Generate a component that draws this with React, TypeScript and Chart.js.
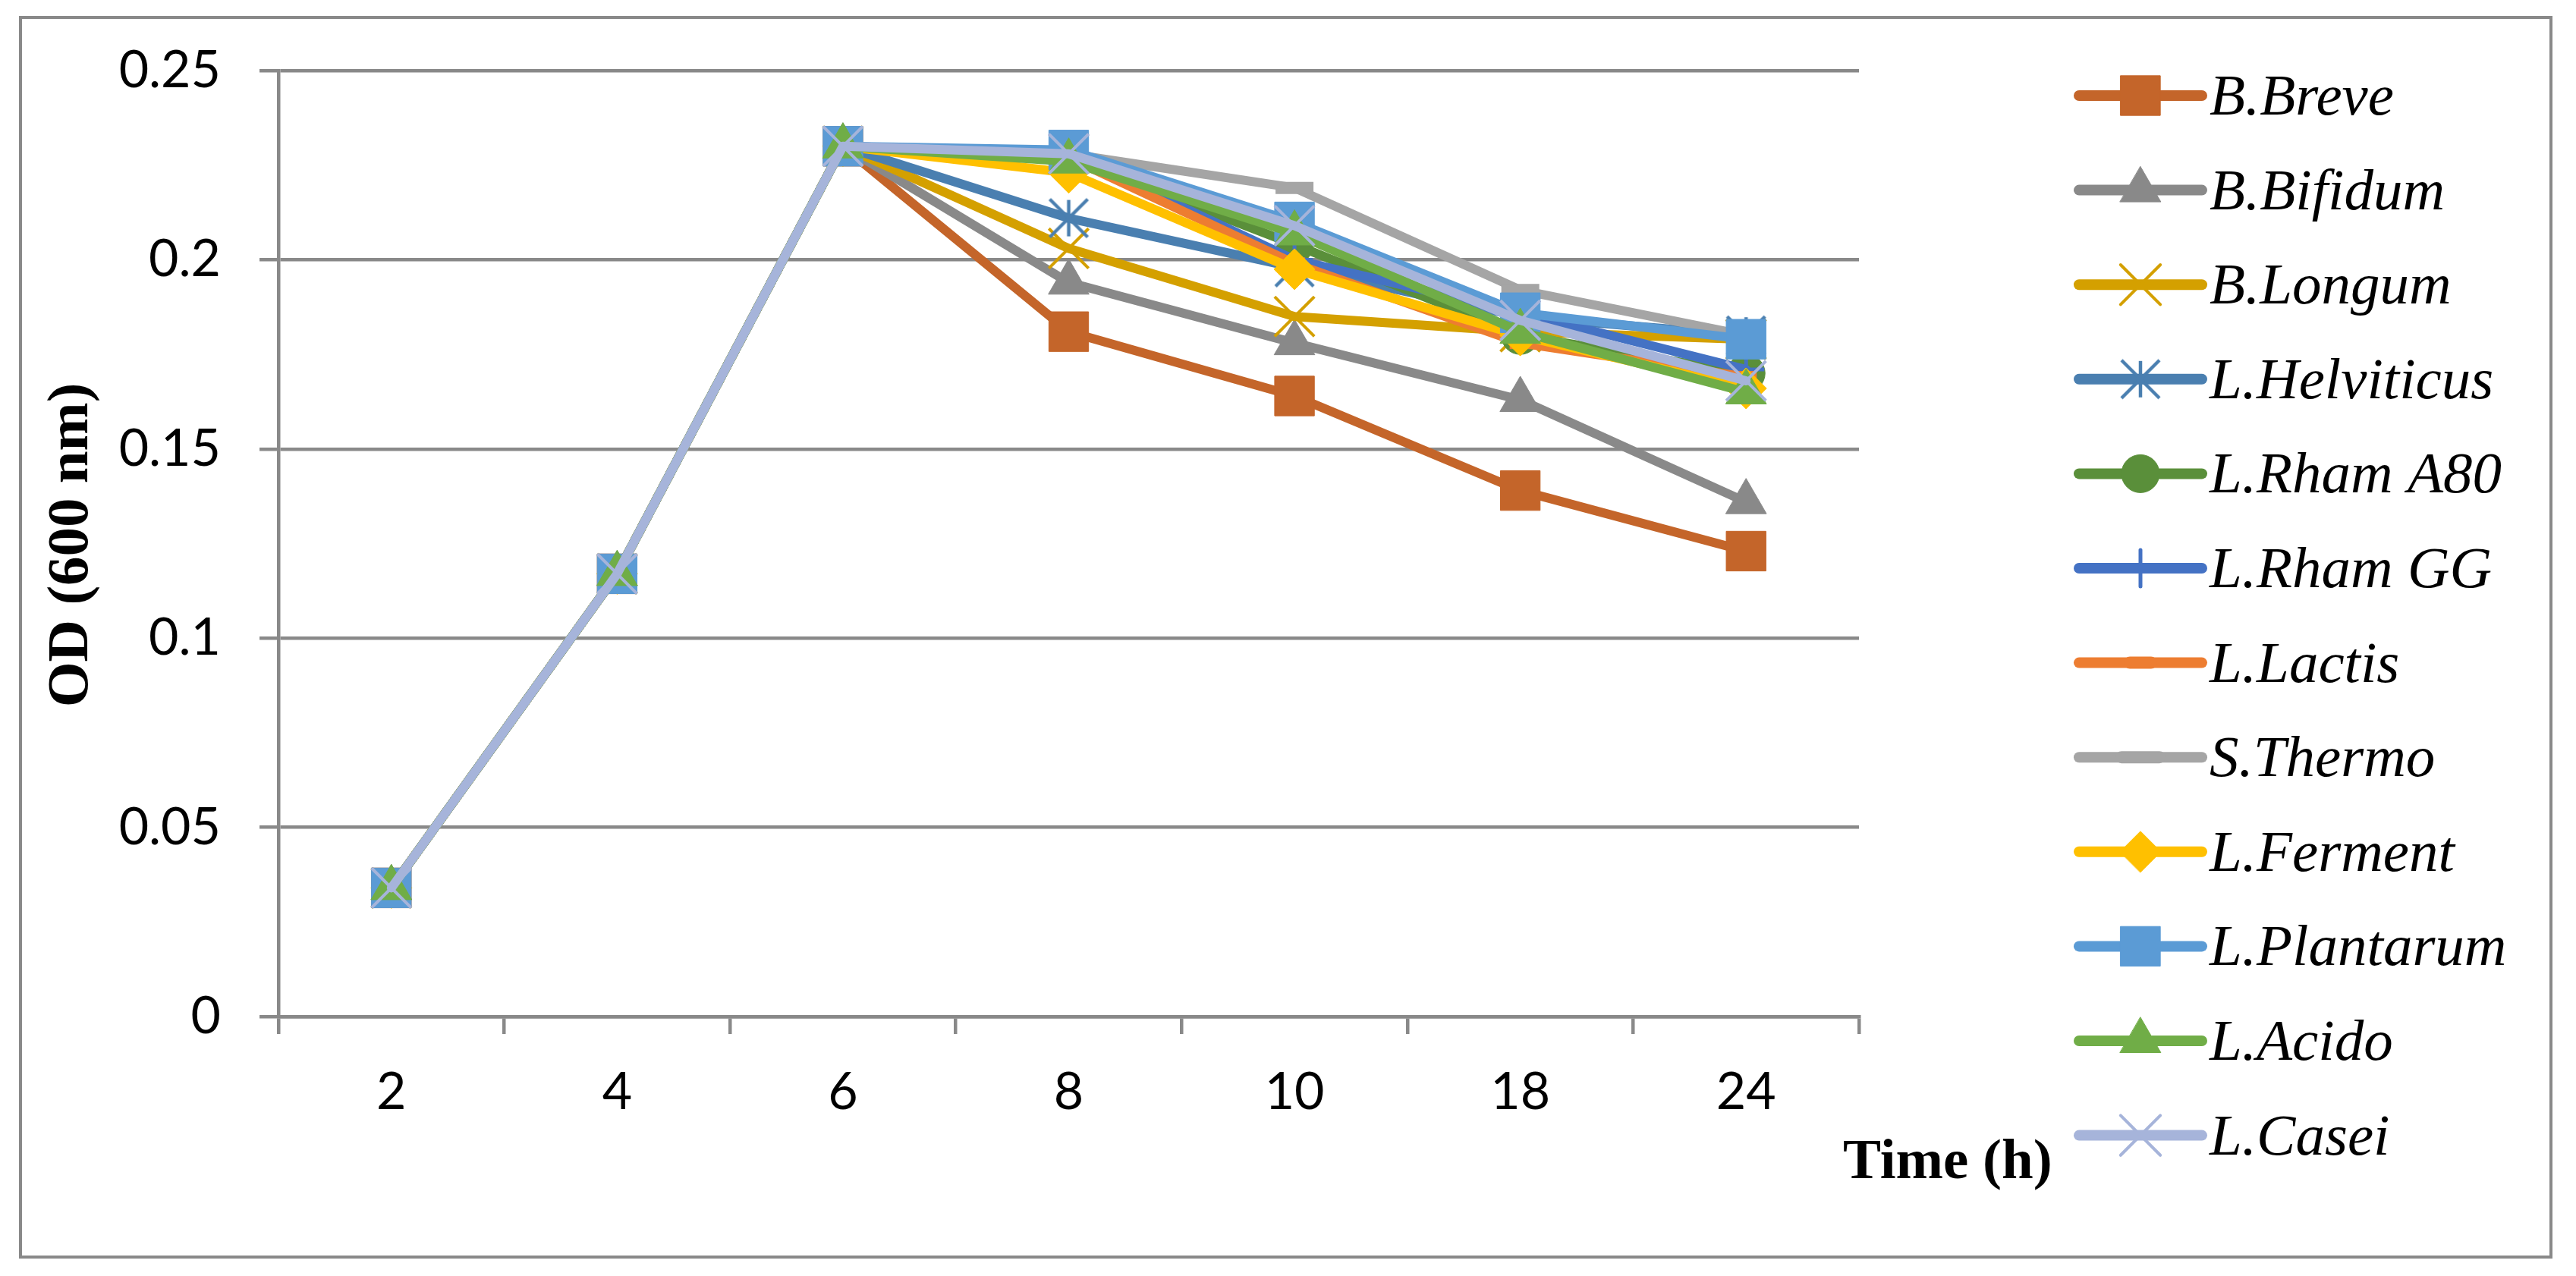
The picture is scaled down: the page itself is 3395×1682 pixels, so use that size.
import React, { useEffect, useRef } from 'react';
import { Chart, registerables } from 'chart.js';
import { drawPoint } from 'chart.js/helpers';

Chart.register(...registerables);

// ---------- data ----------
const timeLabels = ['2', '4', '6', '8', '10', '18', '24'];
const yTickValues = [0, 0.05, 0.1, 0.15, 0.2, 0.25];
const yTickLabels = ['0', '0.05', '0.1', '0.15', '0.2', '0.25'];

const seriesNames = [
  'B.Breve', 'B.Bifidum', 'B.Longum', 'L.Helviticus', 'L.Rham A80', 'L.Rham GG',
  'L.Lactis', 'S.Thermo', 'L.Ferment', 'L.Plantarum', 'L.Acido', 'L.Casei',
];

const bBreve = [0.034, 0.117, 0.23, 0.181, 0.164, 0.139, 0.123];
const bBifidum = [0.034, 0.117, 0.23, 0.194, 0.178, 0.163, 0.136];
const bLongum = [0.034, 0.117, 0.23, 0.203, 0.185, 0.181, 0.179];
const lHelviticus = [0.034, 0.117, 0.23, 0.211, 0.198, 0.185, 0.18];
const lRhamA80 = [0.034, 0.117, 0.23, 0.227, 0.204, 0.18, 0.17];
const lRhamGG = [0.034, 0.117, 0.23, 0.228, 0.2, 0.186, 0.171];
const lLactis = [0.034, 0.117, 0.23, 0.227, 0.199, 0.178, 0.169];
const sThermo = [0.034, 0.117, 0.23, 0.228, 0.219, 0.192, 0.18];
const lFerment = [0.034, 0.117, 0.23, 0.223, 0.1975, 0.18, 0.166];
const lPlantarum = [0.034, 0.117, 0.23, 0.229, 0.21, 0.186, 0.179];
const lAcido = [0.034, 0.117, 0.23, 0.226, 0.207, 0.181, 0.165];
const lCasei = [0.034, 0.117, 0.23, 0.228, 0.209, 0.184, 0.168];

const seriesValues = [
  bBreve, bBifidum, bLongum, lHelviticus, lRhamA80, lRhamGG,
  lLactis, sThermo, lFerment, lPlantarum, lAcido, lCasei,
];

// ---------- styles ----------
const seriesColors = [
  '#C4652A', '#898989', '#D4A000', '#4A7FB0', '#5A8F3A', '#4472C4',
  '#ED7D31', '#A5A5A5', '#FFC000', '#5B9BD5', '#70AD47', '#A6B4DA',
];
const markerStyles = [
  'rect', 'triangle', 'crossRot', 'asterisk', 'circle', 'cross',
  'line', 'line', 'rectRot', 'rect', 'triangle', 'crossRot',
];
const markerRadii = [37, 31, 37, 36, 25, 24, 14, 25, 27, 37, 31, 37];
const markerBorderWidths = [1, 1, 4, 4, 1, 5, 16, 16, 1, 1, 1, 4];

const GRID = '#898989';
const TICK_FONT = { family: 'Lato', size: 68 };

function makeAsterisk(color: string): HTMLCanvasElement {
  const c = document.createElement('canvas');
  c.width = 58;
  c.height = 58;
  const g = c.getContext('2d')!;
  g.strokeStyle = color;
  g.lineWidth = 4.5;
  g.beginPath();
  g.moveTo(29 - 25, 29 - 25);
  g.lineTo(29 + 25, 29 + 25);
  g.moveTo(29 + 25, 29 - 25);
  g.lineTo(29 - 25, 29 + 25);
  g.moveTo(29, 29 - 24);
  g.lineTo(29, 29 + 24);
  g.stroke();
  return c;
}

const decorPlugin = {
  id: 'decor',
  beforeDraw(chart: any) {
    const ctx = chart.ctx;
    ctx.save();
    ctx.fillStyle = '#ffffff';
    ctx.fillRect(0, 0, chart.width, chart.height);
    ctx.strokeStyle = GRID;
    ctx.lineWidth = 4;
    ctx.strokeRect(27, 23, 3335, 1634);
    ctx.restore();
  },
  afterDraw(chart: any) {
    const ctx = chart.ctx;
    const area = chart.chartArea;
    ctx.save();
    // Y title
    ctx.fillStyle = '#000';
    ctx.font = 'bold 77px "Liberation Serif"';
    ctx.textAlign = 'center';
    ctx.textBaseline = 'alphabetic';
    ctx.translate(115, (area.top + area.bottom) / 2 + 2);
    ctx.rotate(-Math.PI / 2);
    ctx.fillText('OD (600 nm)', 0, 0);
    ctx.restore();

    // X title
    ctx.save();
    ctx.fillStyle = '#000';
    ctx.font = 'bold 75px "Liberation Serif"';
    ctx.textAlign = 'left';
    ctx.textBaseline = 'alphabetic';
    ctx.fillText('Time (h)', area.right - 21, 1553);
    ctx.restore();

    // Legend
    const lx0 = 2740;
    const lx1 = 2902;
    const rowTop = 126;
    const rowStep = 124.6;
    chart.data.datasets.forEach((ds: any, i: number) => {
      const y = rowTop + rowStep * i;
      ctx.save();
      ctx.strokeStyle = ds.borderColor;
      ctx.lineWidth = 14;
      ctx.lineCap = 'round';
      ctx.beginPath();
      ctx.moveTo(lx0, y);
      ctx.lineTo(lx1, y);
      ctx.stroke();
      ctx.fillStyle = ds.pointBackgroundColor;
      ctx.strokeStyle = ds.pointBorderColor;
      ctx.lineWidth = ds.pointBorderWidth;
      drawPoint(ctx, {
        pointStyle: ds.pointStyle,
        rotation: 0,
        radius: ds.pointRadius,
        borderWidth: ds.pointBorderWidth,
      } as any, (lx0 + lx1) / 2, y);
      ctx.restore();
      ctx.save();
      ctx.fillStyle = '#000';
      ctx.font = 'italic 77px "Liberation Serif"';
      ctx.textAlign = 'left';
      ctx.textBaseline = 'alphabetic';
      ctx.fillText(ds.label, 2912, y + 25);
      ctx.restore();
    });
  },
};

export default function App() {
  const canvasRef = useRef<HTMLCanvasElement | null>(null);

  useEffect(() => {
    document.body.style.margin = '0';
    const canvas = canvasRef.current;
    if (!canvas) return;
    const datasets = seriesNames.map((name, i) => ({
      label: name,
      data: seriesValues[i],
      borderColor: seriesColors[i],
      backgroundColor: seriesColors[i],
      borderWidth: 12,
      borderJoinStyle: 'round',
      borderCapStyle: 'round',
      pointStyle: markerStyles[i] === 'asterisk' ? makeAsterisk(seriesColors[i]) : markerStyles[i],
      pointRadius: markerRadii[i],
      pointBackgroundColor: seriesColors[i],
      pointBorderColor: seriesColors[i],
      pointBorderWidth: markerBorderWidths[i],
      tension: 0,
      fill: false,
      order: seriesNames.length - i,
    }));

    const chart = new Chart(canvas, {
      type: 'line',
      data: { labels: timeLabels, datasets: datasets as any },
      plugins: [decorPlugin as any],
      options: {
        animation: false,
        responsive: false,
        devicePixelRatio: 1,
        events: [],
        layout: { padding: { left: 0, top: 93, right: 945, bottom: 0 } },
        plugins: {
          legend: { display: false },
          tooltip: { enabled: false },
          title: { display: false },
        },
        scales: {
          x: {
            type: 'category',
            offset: true,
            grid: {
              display: true,
              offset: true,
              drawOnChartArea: false,
              drawTicks: true,
              tickLength: 23,
              color: GRID,
              lineWidth: 4.5,
            },
            border: { display: true, color: GRID, width: 4.5 },
            ticks: {
              font: TICK_FONT,
              color: '#000',
              padding: 36,
              maxRotation: 0,
              autoSkip: false,
            },
            afterFit: (s: any) => { s.height = 342; },
          },
          y: {
            min: 0,
            max: 0.25,
            grid: {
              color: GRID,
              lineWidth: 4.5,
              drawTicks: true,
              tickLength: 25,
            },
            border: { display: true, color: GRID, width: 4.5 },
            ticks: {
              font: TICK_FONT,
              color: '#000',
              padding: 51,
              callback: (_v: any, idx: number) => yTickLabels[idx],
            },
            afterBuildTicks: (s: any) => {
              s.ticks = yTickValues.map((value) => ({ value }));
            },
            afterFit: (s: any) => { s.width = 367; },
          },
        },
      } as any,
    });
    return () => chart.destroy();
  }, []);

  return (
    <div style={{ position: 'absolute', left: 0, top: 0, width: 3395, height: 1682 }}>
      <canvas ref={canvasRef} width={3395} height={1682} style={{ width: 3395, height: 1682, display: 'block' }} />
    </div>
  );
}
